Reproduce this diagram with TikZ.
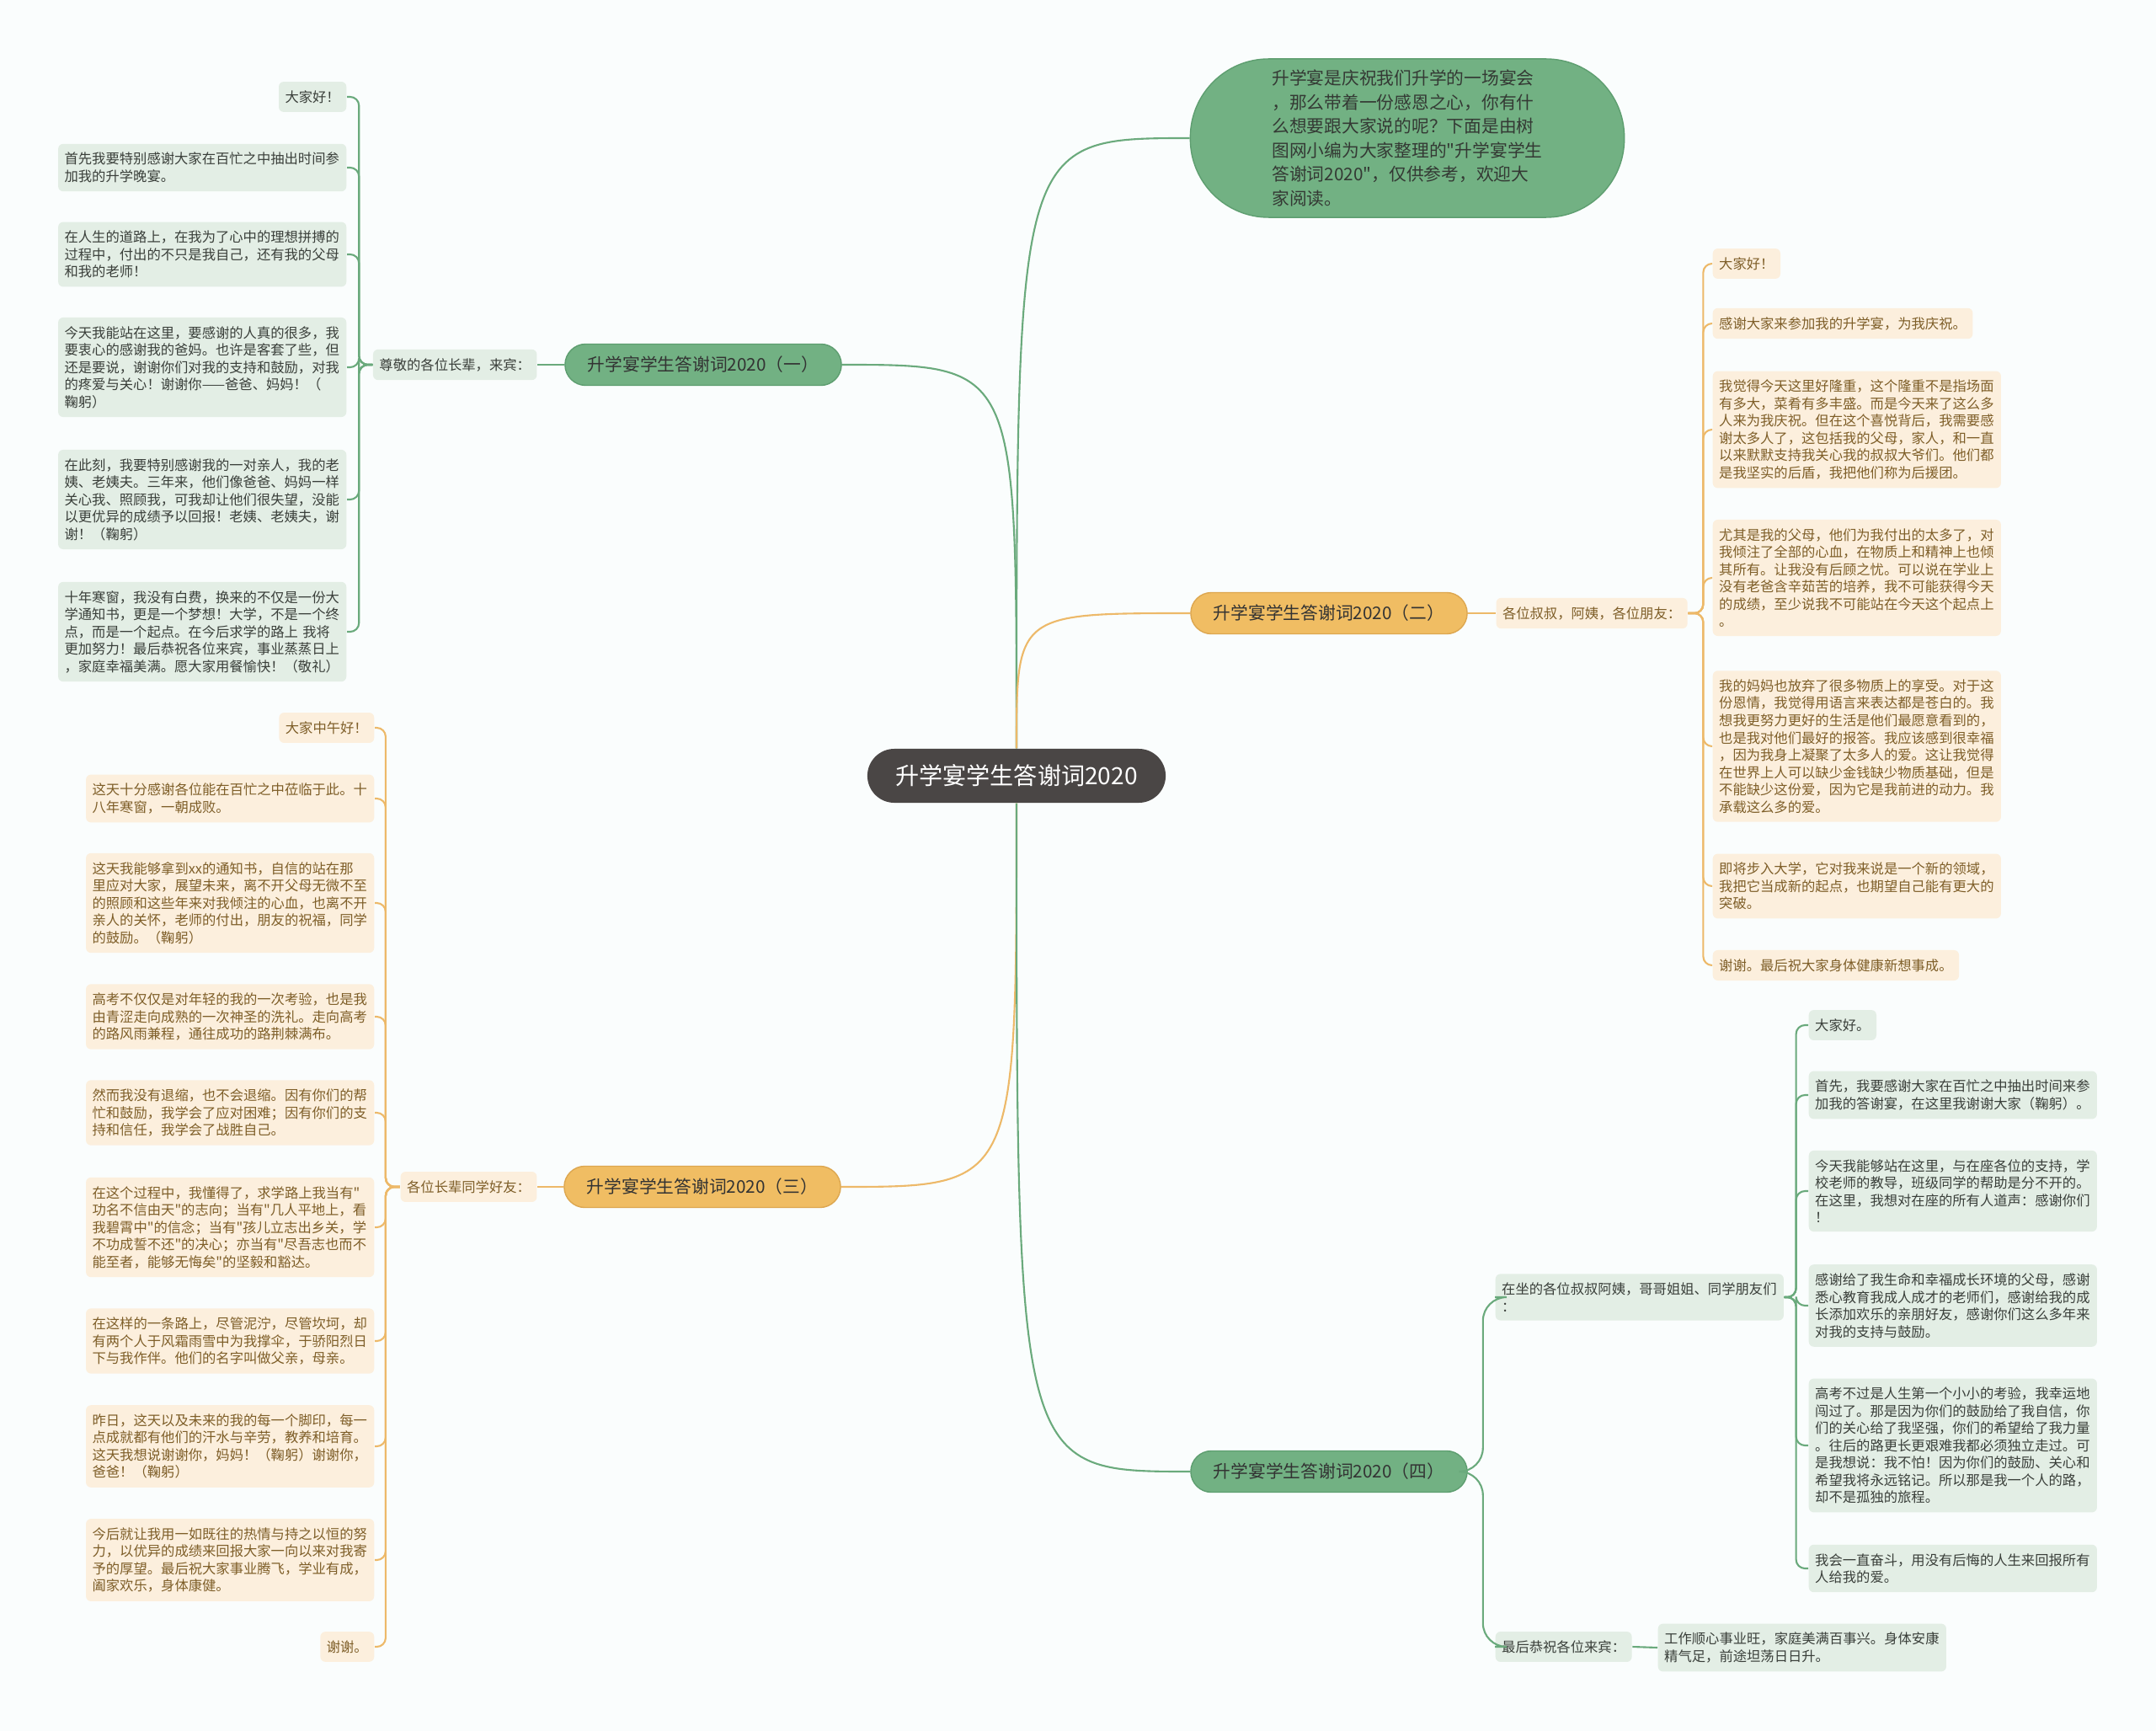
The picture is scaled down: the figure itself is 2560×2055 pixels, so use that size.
\documentclass[tikz,border=0pt]{standalone}
\usepackage{fontspec}
\setmainfont{Noto Sans CJK SC}
\newfontfamily\cjkfont{Noto Sans CJK SC}
\usepackage{xcolor}
\usepackage{tikz}
\usetikzlibrary{positioning}

\definecolor{pagebg}{HTML}{FAFDFD}
\definecolor{rootbg}{HTML}{4A4645}
\definecolor{gfill}{HTML}{72B183}
\definecolor{gdark}{HTML}{5E9E70}
\definecolor{gedge}{HTML}{6AAA7C}
\definecolor{gsoft}{HTML}{E3EEE5}
\definecolor{gtext}{HTML}{3A3F3A}
\definecolor{ofill}{HTML}{F0BD63}
\definecolor{odark}{HTML}{DDA750}
\definecolor{oedge}{HTML}{EDB969}
\definecolor{osoft}{HTML}{FCEFDD}
\definecolor{otext}{HTML}{7E5E28}

\newcommand{\leaffont}{\cjkfont\fontsize{4.64pt}{5.83pt}\selectfont}
\newcommand{\branchfont}{\cjkfont\fontsize{5.9pt}{7pt}\selectfont}
\newcommand{\introfont}{\cjkfont\fontsize{5.9pt}{8.1pt}\selectfont}
\newcommand{\rootfont}{\cjkfont\fontsize{8pt}{9.6pt}\selectfont}

\begin{document}
\begin{tikzpicture}[
  x=0.01cm, y=-0.01cm,
  root/.style={rectangle, fill=rootbg, rounded corners=0.32cm, minimum width=3.54cm, minimum height=0.64cm, inner sep=0pt, font=\rootfont, text=white},
  intro/.style={rectangle, draw=gdark, fill=gfill, rounded corners=0.93cm, minimum width=5.15cm, minimum height=1.88cm, inner sep=0pt, font=\introfont, text=gtext!90!black, align=left},
  branch/.style={rectangle, rounded corners=0.245cm, minimum width=3.28cm, minimum height=0.49cm, inner sep=0pt, font=\branchfont, text=black!80},
  gbranch/.style={branch, draw=gdark, fill=gfill},
  obranch/.style={branch, draw=odark, fill=ofill},
  leafbase/.style={rectangle, rounded corners=0.06cm, inner xsep=0.075cm, inner ysep=2.95pt, font=\leaffont, align=left},
  gleaf/.style={leafbase, fill=gsoft, text=gtext},
  oleaf/.style={leafbase, fill=osoft, text=otext},
  wide/.style={text width=3.27cm},
  gcon/.style={draw=gedge, line width=0.6pt},
  ocon/.style={draw=oedge, line width=0.6pt},
  brk/.style={rounded corners=3pt},
]

\fill[pagebg] (0,0) rectangle (2560,2055);

\node[root] (root) at (1207,921) {升学宴学生答谢词2020};
\node[intro] (intro) at (1671,164) {升学宴是庆祝我们升学的一场宴会\\，那么带着一份感恩之心，你有什\\么想要跟大家说的呢？下面是由树\\图网小编为大家整理的"升学宴学生\\答谢词2020"，仅供参考，欢迎大\\家阅读。};

% Branch 1
\node[gbranch] (b1) at (835,433) {升学宴学生答谢词2020（一）};
\node[gleaf, left=0.32cm of b1] (t1) {尊敬的各位长辈，来宾：};
\node[gleaf, anchor=east] (l1a) at (412,115) {大家好！};
\node[gleaf, wide, anchor=east] (l1b) at (412,199) {首先我要特别感谢大家在百忙之中抽出时间参\\加我的升学晚宴。};
\node[gleaf, wide, anchor=east] (l1c) at (412,302) {在人生的道路上，在我为了心中的理想拼搏的\\过程中，付出的不只是我自己，还有我的父母\\和我的老师！};
\node[gleaf, wide, anchor=east] (l1d) at (412,436) {今天我能站在这里，要感谢的人真的很多，我\\要衷心的感谢我的爸妈。也许是客套了些，但\\还是要说，谢谢你们对我的支持和鼓励，对我\\的疼爱与关心！谢谢你——爸爸、妈妈！（\\鞠躬）};
\node[gleaf, wide, anchor=east] (l1e) at (412,593) {在此刻，我要特别感谢我的一对亲人，我的老\\姨、老姨夫。三年来，他们像爸爸、妈妈一样\\关心我、照顾我，可我却让他们很失望，没能\\以更优异的成绩予以回报！老姨、老姨夫，谢\\谢！（鞠躬）};
\node[gleaf, wide, anchor=east] (l1f) at (412,750) {十年寒窗，我没有白费，换来的不仅是一份大\\学通知书，更是一个梦想！大学，不是一个终\\点，而是一个起点。在今后求学的路上 我将\\更加努力！最后恭祝各位来宾，事业蒸蒸日上\\，家庭幸福美满。愿大家用餐愉快！（敬礼）};

% Branch 2
\node[obranch] (b2) at (1578,728) {升学宴学生答谢词2020（二）};
\node[oleaf, right=0.33cm of b2] (t2) {各位叔叔，阿姨，各位朋友：};
\node[oleaf, anchor=west] (r2a) at (2033,313) {大家好！};
\node[oleaf, anchor=west] (r2b) at (2033,384) {感谢大家来参加我的升学宴，为我庆祝。};
\node[oleaf, wide, anchor=west] (r2c) at (2033,510) {我觉得今天这里好隆重，这个隆重不是指场面\\有多大，菜肴有多丰盛。而是今天来了这么多\\人来为我庆祝。但在这个喜悦背后，我需要感\\谢太多人了，这包括我的父母，家人，和一直\\以来默默支持我关心我的叔叔大爷们。他们都\\是我坚实的后盾，我把他们称为后援团。};
\node[oleaf, wide, anchor=west] (r2d) at (2033,686) {尤其是我的父母，他们为我付出的太多了，对\\我倾注了全部的心血，在物质上和精神上也倾\\其所有。让我没有后顾之忧。可以说在学业上\\没有老爸含辛茹苦的培养，我不可能获得今天\\的成绩，至少说我不可能站在今天这个起点上\\。};
\node[oleaf, wide, anchor=west] (r2e) at (2033,886) {我的妈妈也放弃了很多物质上的享受。对于这\\份恩情，我觉得用语言来表达都是苍白的。我\\想我更努力更好的生活是他们最愿意看到的，\\也是我对他们最好的报答。我应该感到很幸福\\，因为我身上凝聚了太多人的爱。这让我觉得\\在世界上人可以缺少金钱缺少物质基础，但是\\不能缺少这份爱，因为它是我前进的动力。我\\承载这么多的爱。};
\node[oleaf, wide, anchor=west] (r2f) at (2033,1052) {即将步入大学，它对我来说是一个新的领域，\\我把它当成新的起点，也期望自己能有更大的\\突破。};
\node[oleaf, anchor=west] (r2g) at (2033,1146) {谢谢。最后祝大家身体健康新想事成。};

% Branch 3
\node[obranch] (b3) at (834,1409) {升学宴学生答谢词2020（三）};
\node[oleaf, left=0.31cm of b3] (t3) {各位长辈同学好友：};
\node[oleaf, anchor=east] (l3a) at (445,864) {大家中午好！};
\node[oleaf, wide, anchor=east] (l3b) at (445,948) {这天十分感谢各位能在百忙之中莅临于此。十\\八年寒窗，一朝成败。};
\node[oleaf, wide, anchor=east] (l3c) at (445,1072) {这天我能够拿到xx的通知书，自信的站在那\\里应对大家，展望未来，离不开父母无微不至\\的照顾和这些年来对我倾注的心血，也离不开\\亲人的关怀，老师的付出，朋友的祝福，同学\\的鼓励。（鞠躬）};
\node[oleaf, wide, anchor=east] (l3d) at (445,1207) {高考不仅仅是对年轻的我的一次考验，也是我\\由青涩走向成熟的一次神圣的洗礼。走向高考\\的路风雨兼程，通往成功的路荆棘满布。};
\node[oleaf, wide, anchor=east] (l3e) at (445,1321) {然而我没有退缩，也不会退缩。因有你们的帮\\忙和鼓励，我学会了应对困难；因有你们的支\\持和信任，我学会了战胜自己。};
\node[oleaf, wide, anchor=east] (l3f) at (445,1457) {在这个过程中，我懂得了，求学路上我当有"\\功名不信由天"的志向；当有"几人平地上，看\\我碧霄中"的信念；当有"孩儿立志出乡关，学\\不功成誓不还"的决心；亦当有"尽吾志也而不\\能至者，能够无悔矣"的坚毅和豁达。};
\node[oleaf, wide, anchor=east] (l3g) at (445,1592) {在这样的一条路上，尽管泥泞，尽管坎坷，却\\有两个人于风霜雨雪中为我撑伞，于骄阳烈日\\下与我作伴。他们的名字叫做父亲，母亲。};
\node[oleaf, wide, anchor=east] (l3h) at (445,1717) {昨日，这天以及未来的我的每一个脚印，每一\\点成就都有他们的汗水与辛劳，教养和培育。\\这天我想说谢谢你，妈妈！（鞠躬）谢谢你，\\爸爸！（鞠躬）};
\node[oleaf, wide, anchor=east] (l3i) at (445,1852) {今后就让我用一如既往的热情与持之以恒的努\\力，以优异的成绩来回报大家一向以来对我寄\\予的厚望。最后祝大家事业腾飞，学业有成，\\阖家欢乐，身体康健。};
\node[oleaf, anchor=east] (l3j) at (445,1955) {谢谢。};

% Branch 4
\node[gbranch] (b4) at (1578,1747) {升学宴学生答谢词2020（四）};
\node[gleaf, wide, anchor=west] (t4a) at (1775,1540) {在坐的各位叔叔阿姨，哥哥姐姐、同学朋友们\\：};
\node[gleaf, anchor=west] (t4b) at (1775,1955) {最后恭祝各位来宾：};
\node[gleaf, anchor=west] (r4a) at (2147,1217) {大家好。};
\node[gleaf, wide, anchor=west] (r4b) at (2147,1300) {首先，我要感谢大家在百忙之中抽出时间来参\\加我的答谢宴，在这里我谢谢大家（鞠躬）。};
\node[gleaf, wide, anchor=west] (r4c) at (2147,1414) {今天我能够站在这里，与在座各位的支持，学\\校老师的教导，班级同学的帮助是分不开的。\\在这里，我想对在座的所有人道声：感谢你们\\！};
\node[gleaf, wide, anchor=west] (r4d) at (2147,1550) {感谢给了我生命和幸福成长环境的父母，感谢\\悉心教育我成人成才的老师们，感谢给我的成\\长添加欢乐的亲朋好友，感谢你们这么多年来\\对我的支持与鼓励。};
\node[gleaf, wide, anchor=west] (r4e) at (2147,1716) {高考不过是人生第一个小小的考验，我幸运地\\闯过了。那是因为你们的鼓励给了我自信，你\\们的关心给了我坚强，你们的希望给了我力量\\。往后的路更长更艰难我都必须独立走过。可\\是我想说：我不怕！因为你们的鼓励、关心和\\希望我将永远铭记。所以那是我一个人的路，\\却不是孤独的旅程。};
\node[gleaf, wide, anchor=west] (r4f) at (2147,1862) {我会一直奋斗，用没有后悔的人生来回报所有\\人给我的爱。};
\node[gleaf, wide, anchor=west] (r4g) at (1968,1956) {工作顺心事业旺，家庭美满百事兴。身体安康\\精气足，前途坦荡日日升。};

% main curves
\draw[gcon] (root.north) .. controls (root.north |- intro.west) .. (intro.west);
\draw[gcon] (root.north) .. controls (root.north |- b1.east) .. (b1.east);
\draw[ocon] (root.north) .. controls (root.north |- b2.west) .. (b2.west);
\draw[ocon] (root.south) .. controls (root.south |- b3.east) .. (b3.east);
\draw[gcon] (root.south) .. controls (root.south |- b4.west) .. (b4.west);

% branch to tag
\draw[gcon] (b1.west) -- (t1.east);
\draw[ocon] (b2.east) -- (t2.west);
\draw[ocon] (b3.west) -- (t3.east);
\draw[gcon, rounded corners=8pt] (b4.east) -- ++(18,0) |- (t4a.west);
\draw[gcon, rounded corners=8pt] (b4.east) -- ++(18,0) |- (t4b.west);
\draw[gcon] (t4b.east) -- (r4g.west);

% brackets, branch 1
\draw[gcon, brk] (t1.west) -- ++(-16,0) |- (l1a.east);
\draw[gcon, brk] (t1.west) -- ++(-16,0) |- (l1b.east);
\draw[gcon, brk] (t1.west) -- ++(-16,0) |- (l1c.east);
\draw[gcon, brk] (t1.west) -- ++(-16,0) |- (l1d.east);
\draw[gcon, brk] (t1.west) -- ++(-16,0) |- (l1e.east);
\draw[gcon, brk] (t1.west) -- ++(-16,0) |- (l1f.east);

% brackets, branch 2
\draw[ocon, brk] (t2.east) -- ++(18,0) |- (r2a.west);
\draw[ocon, brk] (t2.east) -- ++(18,0) |- (r2b.west);
\draw[ocon, brk] (t2.east) -- ++(18,0) |- (r2c.west);
\draw[ocon, brk] (t2.east) -- ++(18,0) |- (r2d.west);
\draw[ocon, brk] (t2.east) -- ++(18,0) |- (r2e.west);
\draw[ocon, brk] (t2.east) -- ++(18,0) |- (r2f.west);
\draw[ocon, brk] (t2.east) -- ++(18,0) |- (r2g.west);

% brackets, branch 3
\draw[ocon, brk] (t3.west) -- ++(-17,0) |- (l3a.east);
\draw[ocon, brk] (t3.west) -- ++(-17,0) |- (l3b.east);
\draw[ocon, brk] (t3.west) -- ++(-17,0) |- (l3c.east);
\draw[ocon, brk] (t3.west) -- ++(-17,0) |- (l3d.east);
\draw[ocon, brk] (t3.west) -- ++(-17,0) |- (l3e.east);
\draw[ocon, brk] (t3.west) -- ++(-17,0) |- (l3f.east);
\draw[ocon, brk] (t3.west) -- ++(-17,0) |- (l3g.east);
\draw[ocon, brk] (t3.west) -- ++(-17,0) |- (l3h.east);
\draw[ocon, brk] (t3.west) -- ++(-17,0) |- (l3i.east);
\draw[ocon, brk] (t3.west) -- ++(-17,0) |- (l3j.east);

% brackets, branch 4
\draw[gcon, brk] (t4a.east) -- ++(14,0) |- (r4a.west);
\draw[gcon, brk] (t4a.east) -- ++(14,0) |- (r4b.west);
\draw[gcon, brk] (t4a.east) -- ++(14,0) |- (r4c.west);
\draw[gcon, brk] (t4a.east) -- ++(14,0) |- (r4d.west);
\draw[gcon, brk] (t4a.east) -- ++(14,0) |- (r4e.west);
\draw[gcon, brk] (t4a.east) -- ++(14,0) |- (r4f.west);

\end{tikzpicture}
\end{document}
